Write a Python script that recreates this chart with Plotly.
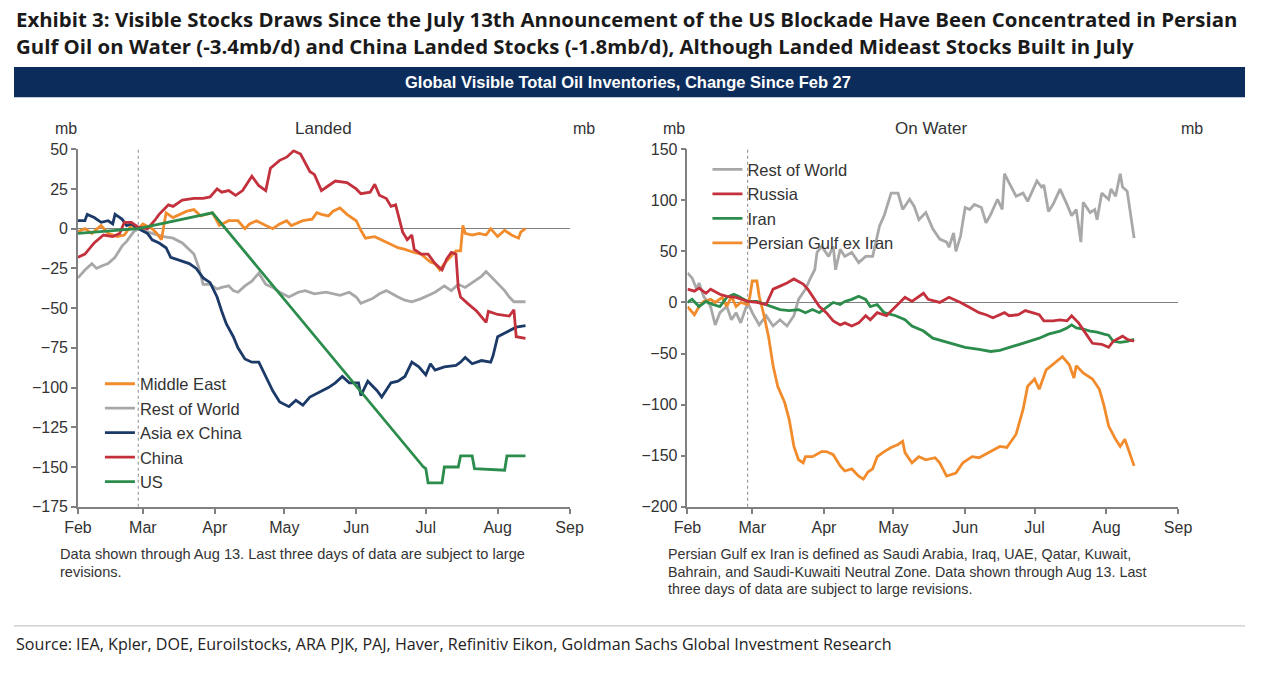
import plotly.graph_objects as go

YEAR = "2026"

# ---------------- Landed panel data (mb, change since Feb 27) ----------------
me_dates = ["02-01","02-04","02-07","02-11","02-14","02-18","02-21","02-24","02-27","03-01","03-05","03-07","03-09","03-11","03-14","03-17","03-20","03-23","03-26","03-28","03-31","04-03","04-07","04-11","04-14","04-16","04-19","04-23","04-26","04-29","05-02","05-04","05-07","05-09","05-13","05-15","05-17","05-20","05-22","05-25","05-28","06-01","06-03","06-05","06-09","06-12","06-15","06-19","06-22","06-26","06-29","07-03","07-05","07-07","07-09","07-12","07-14","07-16","07-17","07-18","07-21","07-24","07-27","07-29","08-01","08-04","08-07","08-10","08-11","08-13"]
me_vals = [-2,0,-3,2,-3,-5,-4,2,0,3,0,-3,-7,10,7,9,11,12,8,9,10,2,5,5,0,3,5,2,0,3,5,2,4,5,6,10,9,8,11,13,9,5,-1,-6,-5,-7,-9,-12,-13,-15,-16,-21,-22,-26,-22,-17,-14,-14,2,-3,-4,-3,-4,0,-5,-1,-4,-6,-2,0]

row_l_dates = ["02-01","02-04","02-07","02-09","02-12","02-14","02-17","02-20","02-22","02-25","02-27","03-01","03-05","03-10","03-14","03-18","03-21","03-23","03-25","03-27","03-30","04-02","04-04","04-07","04-09","04-11","04-14","04-17","04-20","04-23","04-26","04-29","05-03","05-07","05-10","05-14","05-19","05-22","05-25","05-29","06-01","06-03","06-08","06-11","06-14","06-19","06-22","06-25","06-29","07-02","07-05","07-09","07-12","07-15","07-18","07-22","07-25","07-27","07-29","08-01","08-04","08-06","08-08","08-13"]
row_l_vals = [-31,-26,-22,-25,-23,-22,-18,-11,-8,-2,0,-1,-3,-5,-6,-9,-13,-16,-24,-35,-35,-38,-37,-36,-39,-40,-36,-33,-28,-35,-37,-40,-43,-40,-39,-41,-40,-41,-42,-40,-43,-47,-44,-41,-39,-43,-45,-46,-44,-42,-40,-36,-39,-35,-37,-33,-30,-27,-30,-35,-39,-43,-46,-46]

asia_dates = ["02-01","02-04","02-05","02-08","02-11","02-14","02-16","02-17","02-20","02-22","02-24","02-27","03-03","03-05","03-08","03-11","03-13","03-17","03-21","03-24","03-27","03-30","04-02","04-04","04-06","04-09","04-11","04-14","04-17","04-20","04-23","04-26","04-29","05-03","05-06","05-09","05-12","05-16","05-20","05-23","05-26","05-29","06-02","06-03","06-06","06-10","06-12","06-16","06-19","06-22","06-25","06-28","07-01","07-03","07-05","07-09","07-14","07-16","07-18","07-21","07-25","07-29","07-30","08-01","08-06","08-09","08-13"]
asia_vals = [5,5,9,7,4,5,3,9,6,2,3,0,-3,-7,-9,-12,-18,-20,-22,-25,-31,-34,-43,-52,-60,-68,-75,-82,-84,-84,-93,-102,-109,-112,-108,-111,-106,-103,-100,-97,-93,-97,-97,-105,-96,-102,-106,-97,-96,-93,-84,-87,-92,-85,-89,-87,-86,-84,-81,-85,-83,-84,-80,-68,-64,-62,-61]

china_dates = ["02-01","02-04","02-08","02-12","02-16","02-19","02-21","02-24","02-27","03-03","03-06","03-08","03-12","03-14","03-18","03-23","03-27","03-30","04-02","04-04","04-07","04-10","04-13","04-17","04-20","04-23","04-25","04-29","05-02","05-05","05-08","05-10","05-12","05-14","05-17","05-20","05-23","05-28","06-01","06-03","06-07","06-09","06-11","06-14","06-16","06-18","06-20","06-21","06-23","06-25","06-26","06-29","07-02","07-05","07-08","07-10","07-12","07-14","07-15","07-16","07-19","07-23","07-27","07-28","08-01","08-06","08-08","08-09","08-13"]
china_vals = [-18,-16,-9,-4,-5,-3,4,4,1,0,5,9,15,14,18,19,19,20,25,23,24,21,24,33,27,24,38,43,45,49,47,41,36,34,24,27,30,29,25,22,23,28,21,19,14,15,3,-2,-7,-4,-13,-16,-16,-22,-26,-19,-15,-16,-37,-43,-47,-52,-59,-52,-54,-55,-51,-68,-69]

us_dates = ["02-01","02-27","03-31","06-30","07-01","07-02","07-08","07-09","07-15","07-16","07-21","07-22","08-04","08-05","08-13"]
us_vals = [-3,0,10,-150,-151,-160,-160,-150,-150,-143,-143,-151,-152,-143,-143]

# ---------------- On Water panel data ----------------
row_w_dates = ["02-01","02-03","02-05","02-06","02-08","02-11","02-13","02-15","02-18","02-20","02-22","02-24","02-27","03-01","03-04","03-07","03-10","03-13","03-16","03-19","03-21","03-24","03-26","03-28","03-29","03-31","04-03","04-05","04-06","04-08","04-10","04-13","04-16","04-19","04-22","04-25","04-27","04-30","05-03","05-05","05-08","05-10","05-12","05-15","05-18","05-21","05-24","05-25","05-27","05-28","05-30","06-01","06-03","06-05","06-08","06-10","06-12","06-15","06-17","06-18","06-20","06-23","06-26","06-28","07-02","07-04","07-05","07-07","07-09","07-12","07-15","07-17","07-19","07-21","07-22","07-25","07-27","07-28","07-30","08-02","08-03","08-05","08-07","08-08","08-10","08-13"]
row_w_vals = [29,24,13,19,6,-4,-22,-10,-4,-17,-10,-20,0,-10,-22,-13,-23,-17,-23,-13,3,13,23,32,49,55,45,55,32,52,45,49,39,45,45,75,85,107,107,91,101,94,81,88,72,62,59,54,68,50,65,93,91,96,93,78,86,101,91,126,117,104,107,99,119,113,115,89,96,111,96,85,91,59,98,88,91,81,107,101,111,104,126,113,109,63]

russia_dates = ["02-01","02-04","02-06","02-09","02-11","02-15","02-18","02-22","02-27","03-03","03-07","03-10","03-13","03-16","03-19","03-23","03-25","03-27","03-30","04-02","04-05","04-08","04-10","04-13","04-16","04-19","04-21","04-24","04-28","05-02","05-06","05-09","05-12","05-14","05-16","05-21","05-25","05-30","06-03","06-07","06-10","06-13","06-18","06-20","06-24","06-27","06-30","07-03","07-05","07-09","07-12","07-15","07-17","07-20","07-23","07-26","07-30","08-02","08-04","08-08","08-10","08-13"]
russia_vals = [13,11,14,9,13,8,6,5,1,0,-2,13,16,19,23,18,13,6,-4,-10,-18,-22,-20,-23,-20,-13,-17,-10,-13,-4,5,1,6,9,3,0,5,0,-5,-10,-12,-15,-10,-13,-12,-8,-10,-12,-18,-18,-17,-18,-13,-20,-30,-40,-41,-44,-38,-33,-36,-38]

iran_dates = ["02-01","02-03","02-06","02-09","02-12","02-15","02-18","02-21","02-23","02-27","03-03","03-07","03-10","03-13","03-17","03-21","03-24","03-27","03-30","04-02","04-05","04-08","04-10","04-13","04-16","04-19","04-21","04-24","04-27","05-02","05-06","05-09","05-14","05-18","05-21","05-27","06-01","06-07","06-12","06-16","06-20","06-24","06-28","07-03","07-07","07-12","07-15","07-17","07-19","07-22","07-25","07-28","07-31","08-02","08-04","08-07","08-10","08-13"]
iran_vals = [0,3,-4,1,-2,-4,5,8,6,1,1,-2,-5,-7,-8,-7,-10,-7,-10,-5,0,-2,1,3,6,3,-4,-2,-10,-13,-17,-23,-28,-35,-37,-41,-44,-46,-48,-47,-44,-41,-38,-35,-31,-28,-25,-22,-25,-26,-28,-29,-31,-32,-38,-39,-38,-36]

pg_dates = ["02-01","02-03","02-04","02-06","02-08","02-11","02-13","02-16","02-18","02-20","02-22","02-24","02-27","02-28","03-01","03-03","03-04","03-06","03-08","03-10","03-12","03-15","03-17","03-19","03-21","03-23","03-24","03-27","03-31","04-02","04-05","04-08","04-10","04-13","04-16","04-18","04-20","04-22","04-24","04-27","04-30","05-03","05-05","05-06","05-09","05-12","05-15","05-19","05-21","05-24","05-28","05-31","06-04","06-07","06-11","06-16","06-19","06-23","06-26","06-28","07-01","07-03","07-06","07-10","07-13","07-16","07-18","07-19","07-22","07-26","07-29","07-31","08-02","08-05","08-07","08-09","08-11","08-13"]
pg_vals = [-4,-10,-12,-4,1,3,0,5,-4,6,-4,0,-2,6,21,21,6,-12,-33,-62,-82,-98,-115,-141,-154,-157,-151,-151,-146,-146,-149,-160,-165,-163,-170,-173,-166,-163,-151,-146,-142,-139,-136,-147,-157,-151,-154,-152,-157,-170,-167,-157,-151,-152,-147,-141,-142,-129,-105,-82,-75,-85,-66,-59,-53,-61,-74,-62,-69,-75,-85,-101,-121,-134,-141,-134,-147,-160]

# ---------------- Axis labels ----------------
month_ticks = ["02-01","03-01","04-01","05-01","06-01","07-01","08-01","09-01"]
month_labels = ["Feb","Mar","Apr","May","Jun","Jul","Aug","Sep"]
landed_yticks = [50,25,0,-25,-50,-75,-100,-125,-150,-175]
water_yticks = [150,100,50,0,-50,-100,-150,-200]
announce_date = "02-27"


def dt(lst):
    return [f"{YEAR}-{s}" for s in lst]


C_ORANGE = "#f28b2c"
C_GRAY = "#a8a8a8"
C_NAVY = "#1c3a68"
C_RED = "#c3313d"
C_GREEN = "#2b8c4c"
AX = "#808080"
TXT = "#333333"
FONT = "Liberation Sans, Arial, sans-serif"
TFONT = "Open Sans, Lato, sans-serif"
W, H = 1280, 677

# the photographed page shows the figure inset; layout positions below are given in
# photographed-pixel terms and converted into paper fractions here
SX0, SX1, SY0, SY1 = 13.0, 1266.0, 9.0, 668.0


def px_x(p):
    return min(1.0, max(0.0, (p - SX0) / (SX1 - SX0)))


def px_y(p):
    return min(1.0, max(0.0, 1 - (p - SY0) / (SY1 - SY0)))


fig = go.Figure()

LW = 2.8
landed = [
    ("Rest of World", row_l_dates, row_l_vals, C_GRAY, 2),
    ("Middle East", me_dates, me_vals, C_ORANGE, 1),
    ("Asia ex China", asia_dates, asia_vals, C_NAVY, 3),
    ("China", china_dates, china_vals, C_RED, 4),
    ("US", us_dates, us_vals, C_GREEN, 5),
]
for name, ds, vs, col, rank in landed:
    fig.add_trace(go.Scatter(x=dt(ds), y=vs, name=name, mode="lines",
                             line=dict(color=col, width=LW), xaxis="x", yaxis="y",
                             legend="legend", legendrank=rank, hoverinfo="skip"))

water = [
    ("Rest of World", row_w_dates, row_w_vals, C_GRAY, 1),
    ("Persian Gulf ex Iran", pg_dates, pg_vals, C_ORANGE, 4),
    ("Iran", iran_dates, iran_vals, C_GREEN, 3),
    ("Russia", russia_dates, russia_vals, C_RED, 2),
]
for name, ds, vs, col, rank in water:
    fig.add_trace(go.Scatter(x=dt(ds), y=vs, name=name, mode="lines",
                             line=dict(color=col, width=LW), xaxis="x2", yaxis="y3",
                             legend="legend2", legendrank=rank, hoverinfo="skip"))

ydom = [px_y(507), px_y(150)]
xr = [f"{YEAR}-02-01", f"{YEAR}-09-01"]

xcommon = dict(range=xr, tickmode="array", tickvals=dt(month_ticks), ticktext=month_labels,
               showline=True, linecolor=AX, linewidth=1.5, ticks="outside", ticklen=5,
               tickcolor=AX, tickwidth=1.5, showgrid=False, zeroline=False,
               tickfont=dict(family=FONT, size=16, color=TXT), fixedrange=True)
ycommon = dict(showline=True, linecolor=AX, linewidth=1.5, ticks="outside", ticklen=5,
               tickcolor=AX, tickwidth=1.5, showgrid=False,
               tickfont=dict(family=FONT, size=16, color=TXT), fixedrange=True)

fig.update_layout(
    width=W, height=H,
    margin=dict(l=0, r=0, t=0, b=0),
    paper_bgcolor="white", plot_bgcolor="white",
    xaxis=dict(domain=[px_x(77), px_x(569)], anchor="y", **xcommon),
    yaxis=dict(domain=ydom, anchor="x", range=[-175, 50], tickvals=landed_yticks,
               zeroline=True, zerolinecolor=AX, zerolinewidth=1, **ycommon),
    yaxis2=dict(domain=ydom, anchor="x", overlaying="y", side="right", range=[-175, 50],
                tickvals=landed_yticks, zeroline=False, **ycommon),
    xaxis2=dict(domain=[px_x(687), px_x(1178)], anchor="y3", **xcommon),
    yaxis3=dict(domain=ydom, anchor="x2", range=[-200, 150], tickvals=water_yticks,
                zeroline=True, zerolinecolor=AX, zerolinewidth=1, **ycommon),
    yaxis4=dict(domain=ydom, anchor="x2", overlaying="y3", side="right", range=[-200, 150],
                tickvals=water_yticks, zeroline=False, **ycommon),
    legend=dict(x=px_x(99), y=px_y(367), xanchor="left", yanchor="top",
                bgcolor="rgba(0,0,0,0)", font=dict(family=FONT, size=16.5, color=TXT),
                traceorder="normal", itemwidth=30, tracegroupgap=0),
    legend2=dict(x=px_x(707), y=px_y(153), xanchor="left", yanchor="top",
                 bgcolor="rgba(0,0,0,0)", font=dict(family=FONT, size=16.5, color=TXT),
                 traceorder="normal", itemwidth=30, tracegroupgap=0),
    showlegend=True,
)

# banner, separator, announcement markers
fig.add_shape(type="rect", xref="paper", yref="paper", x0=px_x(10), x1=px_x(1245),
              y0=px_y(98), y1=px_y(68), fillcolor="#0c2d5b", line=dict(width=0), layer="below")
fig.add_shape(type="line", xref="paper", yref="paper", x0=px_x(10), x1=px_x(1245),
              y0=px_y(626), y1=px_y(626), line=dict(color="#c8c8c8", width=1.2))
fig.add_shape(type="line", xref="x", yref="y domain", x0=f"{YEAR}-{announce_date}", x1=f"{YEAR}-{announce_date}",
              y0=0, y1=1, line=dict(color="#8a8a8a", width=1, dash="dot"), layer="below")
fig.add_shape(type="line", xref="x2", yref="y3 domain", x0=f"{YEAR}-{announce_date}", x1=f"{YEAR}-{announce_date}",
              y0=0, y1=1, line=dict(color="#8a8a8a", width=1, dash="dot"), layer="below")


def ann(text, x, y, size, color=TXT, family=FONT, xanchor="left", bold=False):
    if bold:
        text = f"<b>{text}</b>"
    fig.add_annotation(text=text, xref="paper", yref="paper", x=px_x(x), y=px_y(y),
                       xanchor=xanchor, yanchor="middle", showarrow=False,
                       font=dict(family=family, size=size, color=color))


ann("Exhibit 3: Visible Stocks Draws Since the July 13th Announcement of the US Blockade Have Been Concentrated in Persian",
    10, 20, 20.4, color="#1a1a1a", family=TFONT, bold=True)
ann("Gulf Oil on Water (-3.4mb/d) and China Landed Stocks (-1.8mb/d), Although Landed Mideast Stocks Built in July",
    10, 47, 20.4, color="#1a1a1a", family=TFONT, bold=True)
ann("Global Visible Total Oil Inventories, Change Since Feb 27", 627, 83, 16.5,
    color="white", xanchor="center", bold=True)

ann("Landed", 323, 129, 17, xanchor="center")
ann("On Water", 931, 129, 17, xanchor="center")
ann("mb", 65, 129, 16, xanchor="center")
ann("mb", 583, 129, 16, xanchor="center")
ann("mb", 674, 129, 16, xanchor="center")
ann("mb", 1192, 129, 16, xanchor="center")

ann("Data shown through Aug 13. Last three days of data are subject to large", 57, 554, 14.6)
ann("revisions.", 57, 572, 14.6)
ann("Persian Gulf ex Iran is defined as Saudi Arabia, Iraq, UAE, Qatar, Kuwait,", 666, 554, 14.3)
ann("Bahrain, and Saudi-Kuwaiti Neutral Zone. Data shown through Aug 13. Last", 666, 572, 14.3)
ann("three days of data are subject to large revisions.", 666, 589, 14.3)

ann("Source: IEA, Kpler, DOE, Euroilstocks, ARA PJK, PAJ, Haver, Refinitiv Eikon, Goldman Sachs Global Investment Research",
    10, 644, 16.1, color="#222222", family=TFONT)

fig.write_html("out.html", config={"displayModeBar": False},
               post_script="document.body.style.margin='0';document.body.style.overflow='hidden';")
